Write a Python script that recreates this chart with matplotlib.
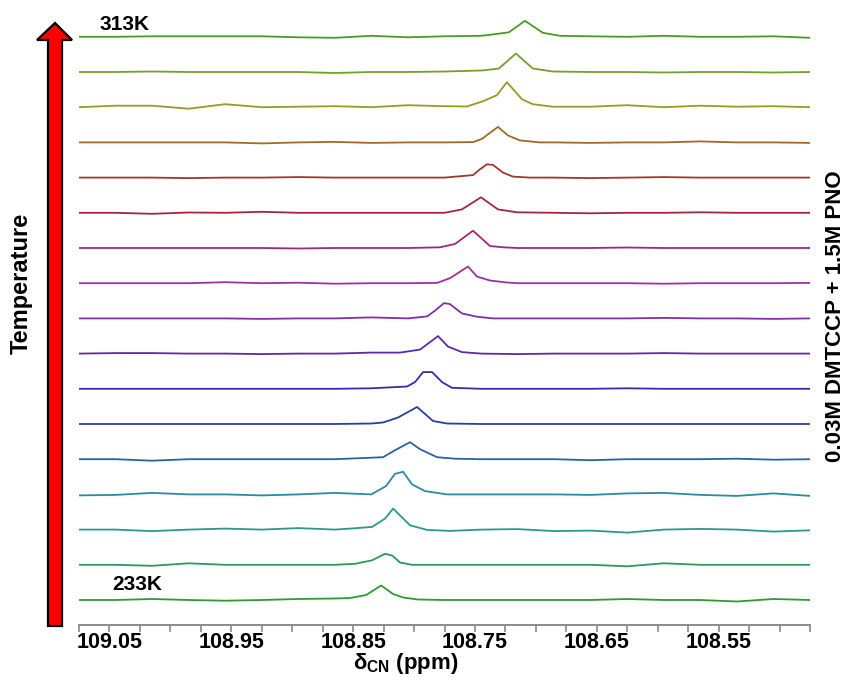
import matplotlib
matplotlib.use("Agg")
import matplotlib.pyplot as plt
from matplotlib.patches import Polygon
from matplotlib.ticker import MultipleLocator

plt.rcParams['font.family'] = ['Liberation Sans', 'DejaVu Sans']
plt.rcParams['font.weight'] = 'bold'
plt.rcParams['mathtext.fontset'] = 'custom'
plt.rcParams['mathtext.rm'] = 'Liberation Sans:bold'
plt.rcParams['mathtext.it'] = 'Liberation Sans:bold'
plt.rcParams['mathtext.bf'] = 'Liberation Sans:bold'

# --- DATA, bottom trace first ---
temps = [233, 238, 243, 248, 253, 258, 263, 268, 273, 278, 283, 288, 293, 298, 303, 308, 313]

grid_ppm = [109.075, 109.045, 109.015, 108.985, 108.955, 108.925, 108.895, 108.865,
            108.835, 108.805, 108.775, 108.745, 108.715, 108.685, 108.655, 108.625,
            108.595, 108.565, 108.535, 108.505, 108.475]

# small baseline wiggles at grid_ppm, one row per temperature
baseline = [
    [0, 0, 1, 0, -0.7, 0, 1, 1.5, 0, 0, 0, 0, 0, 0, 0, 1, 0, 0, -1.5, 1, 0],
    [0, 0, -1, 1.5, 0, 0, 0, 0, 0, 0, 0, 0, 0, 0, 0, -1.5, 1.5, 0, 0, 0, 0],
    [0, 0, -1.5, 0, 1, 0, 1.5, 0, 0, 0, 0, 0, 0.5, -1.5, -1, -3, 0, 0.7, 0, -2, -0.7],
    [-1, -0.5, 1.5, 0, 0, -1, 0, 1.5, 0, 0, 0, 0, 0, 0, -0.5, 1, 1.5, -0.5, -1.5, 1, -1.5],
    [0, 0, -1.5, 0, 0, 0, 0, 0, 1.5, 0, 0, 0, 0, 0, -1, 0, 0, 0, 0.5, -0.5, 0],
    [0, 0, 0, 0, 0, 0, 0, 0, 0.5, 0, 0, 0, 0, 0, 0, 0, 0, 0, 0, 0, 0],
    [0, 0, 0, 0, 0, 0, 0, 0, 0.5, 0, 0, 0, 0, 0, 0, 0.5, 0, 0, 0, 0, 0],
    [0, 0.5, 0.5, 0, 0, -0.5, 0, 0, 1, 0.5, 0, 0, -0.5, 0, 0, 0, 0.5, 0, 0, 0, 0],
    [0, 0, 0, 0, 0, -0.5, 0, 0, 1, 0, 0, 0, 0, 0, 0, 0, 0.5, 0, 0, -0.5, 0],
    [0, 0, 0, 0, 1, 0, 0.5, -0.5, 0, 0, 0, 0, 0, 0, 0, 0, -0.5, 0, 0, 0, 0.3],
    [0, 0, 0, 0, 0, 0, -0.5, 0, 0, 0, 0, 0, 0, 0, 0, 0.5, 0, 0, 0, 0, 0],
    [0, 0, -1, 0.3, 0, 1, 0, 0, 0, 0, 0, 0, 0, 0, -0.5, 0, 0, 0.5, 0, 0, 0],
    [0, 0, 0, -0.5, 0, 0, 0.5, 0, 0, 0, 0, 0, 0, 0, -0.5, 0, 0.5, 0, 0, 0, 0],
    [0, 0, 0, 0, 0, -1, 0, 0.5, -0.5, 0, 0, 0, 0, 0, -0.5, 0, 0, 1, 0, 0, -0.5],
    [0, 1.5, 1.5, -1.5, 3, 0, 0.5, 1, 0, 2, 1, 0, 0, 0, 0.5, 2, 0, 1.5, 0.5, 1, 0],
    [0, 0, 0.5, 0, 0, 0, 0, -1, 0, 0, 0.5, 1.5, 0, 0, 0, 0, -0.5, 0, 0, -0.5, 0],
    [0, 0, 0.5, 0.5, 0.5, 0.5, -0.5, -1, 1, -0.5, 0.5, 1, 0, 0, 0.5, 0, 1, 0, 0, 0.5, -1],
]

peak_ppm = [
    [108.8525, 108.8393, 108.8270, 108.8172, 108.8090, 108.7967],
    [108.8484, 108.8344, 108.8238, 108.8180, 108.8115, 108.8016],
    [108.8525, 108.8344, 108.8238, 108.8172, 108.8033, 108.7893, 108.7705],
    [108.8303, 108.8230, 108.8156, 108.8090, 108.8016, 108.7910, 108.7730],
    [108.8254, 108.8156, 108.8033, 108.7951, 108.7811, 108.7664],
    [108.8254, 108.8131, 108.7975, 108.7844, 108.7730],
    [108.8057, 108.7992, 108.7926, 108.7852, 108.7770, 108.7689],
    [108.8115, 108.7951, 108.7803, 108.7721, 108.7607],
    [108.7893, 108.7828, 108.7754, 108.7705, 108.7607, 108.7484, 108.7352],
    [108.7811, 108.7705, 108.7557, 108.7484, 108.7377, 108.7238],
    [108.7787, 108.7664, 108.7516, 108.7377, 108.7270],
    [108.7607, 108.7451, 108.7311, 108.7156],
    [108.7516, 108.7459, 108.7402, 108.7352, 108.7270, 108.7189, 108.7049],
    [108.7516, 108.7443, 108.7311, 108.7230, 108.7131, 108.6967],
    [108.7566, 108.7434, 108.7320, 108.7238, 108.7172, 108.7115, 108.7025, 108.6861],
    [108.7402, 108.7303, 108.7164, 108.7025, 108.6861],
    [108.7377, 108.7221, 108.7090, 108.6943, 108.6803],
]
peak_int = [
    [2, 5, 14.5, 6, 2.5, 0.5],
    [1, 4.5, 11, 9.3, 2.3, 0],
    [1, 2.7, 11, 21, 4.3, -0.3, -1.3],
    [3.3, 8.3, 20.6, 22.6, 10, 3.3, 0],
    [2, 9, 17, 10, 2, 0.5],
    [1.5, 6.5, 17, 3, 0.5],
    [2.3, 6.7, 16.7, 16.7, 6.7, 1],
    [1, 4, 17.5, 7, 1.5],
    [2, 7.7, 15.3, 14.3, 5, 1.7, 0],
    [0.3, 5, 16.7, 6.7, 2.7, 0.7],
    [0.7, 4, 17.3, 2, 0.7],
    [3.4, 15.5, 3.4, 0.5],
    [2.5, 8.3, 13.3, 12.7, 5, 1, 0],
    [0.3, 3.5, 15.5, 7, 2, 0],
    [0.7, 6, 12, 25, 16, 8, 3, 0.5],
    [2, 3.5, 18.5, 3.5, 0.5],
    [2, 4.5, 16, 4, 1],
]

colors = ['#2f9a32', '#2a9a5a', '#2a9a88', '#2a8ca0', '#2a62a0', '#2a3ea2',
          '#3c2aa8', '#5c2aa8', '#8230a8', '#a0309c', '#a02876', '#a0283e',
          '#a0382a', '#a06a26', '#9a9a22', '#74a02a', '#4c9a24']

tick_pos = [109.05, 108.95, 108.85, 108.75, 108.65, 108.55]
tick_labels = ['109.05', '108.95', '108.85', '108.75', '108.65', '108.55']

# --- FIGURE ---
fig = plt.figure(figsize=(8.45, 6.8), dpi=100)
ax = fig.add_axes([79 / 845, 55 / 680, 731 / 845, 615 / 680])

spacing = 35.2
for i, t in enumerate(temps):
    lo, hi = min(peak_ppm[i]), max(peak_ppm[i])
    # drop baseline grid points that fall inside (or right next to) the peak
    pts = [(g, b) for g, b in zip(grid_ppm, baseline[i]) if g > hi + 0.004 or g < lo - 0.004]
    pts += list(zip(peak_ppm[i], peak_int[i]))
    pts.sort(key=lambda p: -p[0])
    xs = [p[0] for p in pts]
    ys = [25 + i * spacing + p[1] for p in pts]
    ax.plot(xs, ys, color=colors[i], lw=1.3, solid_joinstyle='round')

ax.set_xlim(109.075, 108.475)
ax.set_ylim(0, 615)
ax.set_yticks([])
for s in ['left', 'top', 'right']:
    ax.spines[s].set_visible(False)
ax.spines['bottom'].set_color('#8a8a8a')
ax.spines['bottom'].set_linewidth(1.4)
ax.set_xticks(tick_pos, tick_labels)
ax.xaxis.set_minor_locator(MultipleLocator(0.025))
ax.tick_params(axis='x', which='both', direction='out', color='#8a8a8a',
               width=1.2, labelsize=15.5, pad=0)
ax.tick_params(axis='x', which='major', length=5)
ax.tick_params(axis='x', which='minor', length=5)
for lab in ax.get_xticklabels():
    lab.set_fontweight('bold')

# overlay in pixel coordinates for the arrow and free text
ov = fig.add_axes([0, 0, 1, 1], zorder=5)
ov.set_xlim(0, 845)
ov.set_ylim(680, 0)
ov.axis('off')

arrow = Polygon([(48, 626), (48, 40), (37, 40), (55, 23), (72, 40), (62, 40), (62, 626)],
                closed=True, facecolor='#ff0000', edgecolor='black', lw=1.6)
ov.add_patch(arrow)

ov.text(125, 25, '313K', ha='center', va='center', fontsize=15, fontweight='bold')
ov.text(137, 585, '233K', ha='center', va='center', fontsize=15, fontweight='bold')
ov.text(21, 283, 'Temperature', ha='center', va='center', rotation=90,
        fontsize=17, fontweight='bold')
ov.text(836, 316, '0.03M DMTCCP + 1.5M PNO', ha='center', va='center', rotation=90,
        fontsize=16, fontweight='bold')
ov.text(406, 664, r'δ$_{\mathrm{CN}}$ (ppm)', ha='center', va='center',
        fontsize=16, fontweight='bold')

fig.savefig('out.png', dpi=100)
